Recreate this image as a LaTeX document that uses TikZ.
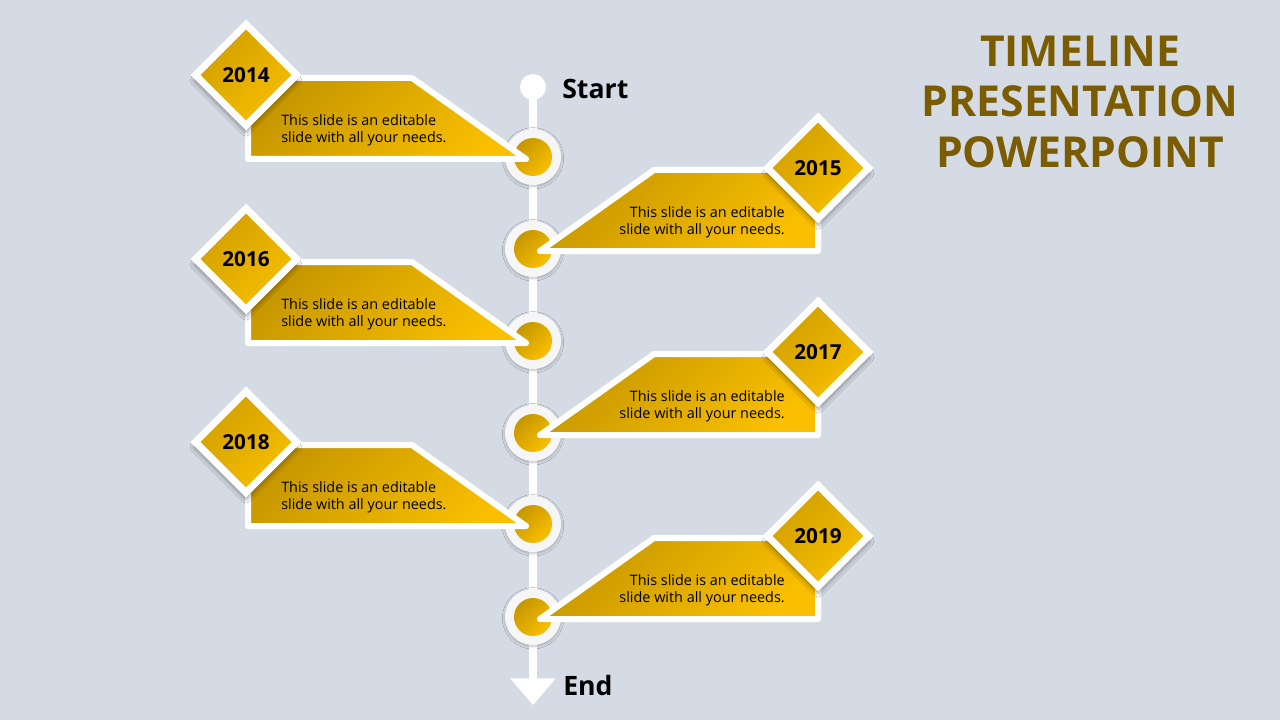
\documentclass[tikz,border=0pt]{standalone}
\usepackage{fontspec}
\setmainfont{Open Sans}
\usetikzlibrary{shapes.geometric,arrows.meta,shadows.blur}

\definecolor{sfondo}{HTML}{D5DBE5}
\definecolor{oroscuro}{HTML}{C69700}
\definecolor{orochiaro}{HTML}{F9BF00}
\definecolor{marrone}{HTML}{7B5C00}
\definecolor{anellocol}{HTML}{F6F6F6}

\tikzset{
	banda/.style={draw=white,line width=4.5pt,line join=round,top color=oroscuro,bottom color=orochiaro,shading angle=45},
	anello/.style={circle,inner sep=0pt,minimum size=42pt,fill=anellocol,blur shadow={shadow xshift=0pt,shadow yshift=-1pt,shadow blur radius=2pt,shadow opacity=25}},
	nucleo/.style={circle,inner sep=0pt,minimum size=28.5pt,top color=oroscuro,bottom color=orochiaro,shading angle=45},
	rombo/.style={diamond,aspect=1,inner sep=0pt,minimum size=78pt,draw=white,line width=5.25pt,top color=oroscuro!80!orochiaro,bottom color=orochiaro,shading angle=45,font=\fontsize{15.5}{16}\selectfont\bfseries,blur shadow={shadow xshift=0pt,shadow yshift=-4pt,shadow blur radius=4pt,shadow opacity=55}},
	testo/.style={inner sep=0pt,font=\fontsize{10.8}{12.75}\selectfont,text=black},
	etichetta/.style={anchor=base west,inner sep=0pt,font=\fontsize{20}{24}\selectfont\bfseries},
	titolo/.style={anchor=base,inner sep=0pt,text=marrone,font=\fontsize{32}{40}\selectfont\bfseries},
}

\newcommand{\ramosx}[3]{
	\node[anello] (a#3) at (533,#1) {};
	\node[nucleo] (n#3) at (a#3) {};
	\draw[banda] (248,#1-79) -- (412,#1-79) -- (526,#1+2) -- (248,#1+2) -- cycle;
	\node[testo,anchor=west,align=left] (t#3) at (281,#1-27) {This slide is an editable\\slide with all your needs.};
	\node[rombo] (r#3) at (246,#1-82) {#2};
}
\newcommand{\ramodx}[3]{
	\node[anello] (a#3) at (533,#1) {};
	\node[nucleo] (n#3) at (a#3) {};
	\draw[banda] (818,#1-79) -- (654,#1-79) -- (540,#1+2) -- (818,#1+2) -- cycle;
	\node[testo,anchor=east,align=right] (t#3) at (785,#1-27) {This slide is an editable\\slide with all your needs.};
	\node[rombo] (r#3) at (818,#1-81) {#2};
}

\begin{document}
\begin{tikzpicture}[x=0.75pt,y=-0.75pt]
	\fill[sfondo] (0,0) rectangle (1280,720);
	\useasboundingbox (0,0) rectangle (1280,720);
	\coordinate (inizio) at (533,87);
	\coordinate (fine) at (533,705);
	\draw[white,line width=6pt,-{Triangle[width=33pt,length=20pt]}] (inizio) -- (fine);
	\node[circle,fill=white,inner sep=0pt,minimum size=19.5pt] (pallino) at (inizio) {};
	\node[etichetta] (partenza) at (562,99) {Start};
	\node[etichetta] (arrivo) at (563,695) {End};
	\ramosx{157}{2014}{a}
	\ramodx{249}{2015}{b}
	\ramosx{341}{2016}{c}
	\ramodx{433}{2017}{d}
	\ramosx{524}{2018}{e}
	\ramodx{617}{2019}{f}
	\node[titolo] (tit1) at (1080,67) {TIMELINE};
	\node[titolo] (tit2) at (1080,117) {PRESENTATION};
	\node[titolo] (tit3) at (1080,168) {POWERPOINT};
\end{tikzpicture}
\end{document}
